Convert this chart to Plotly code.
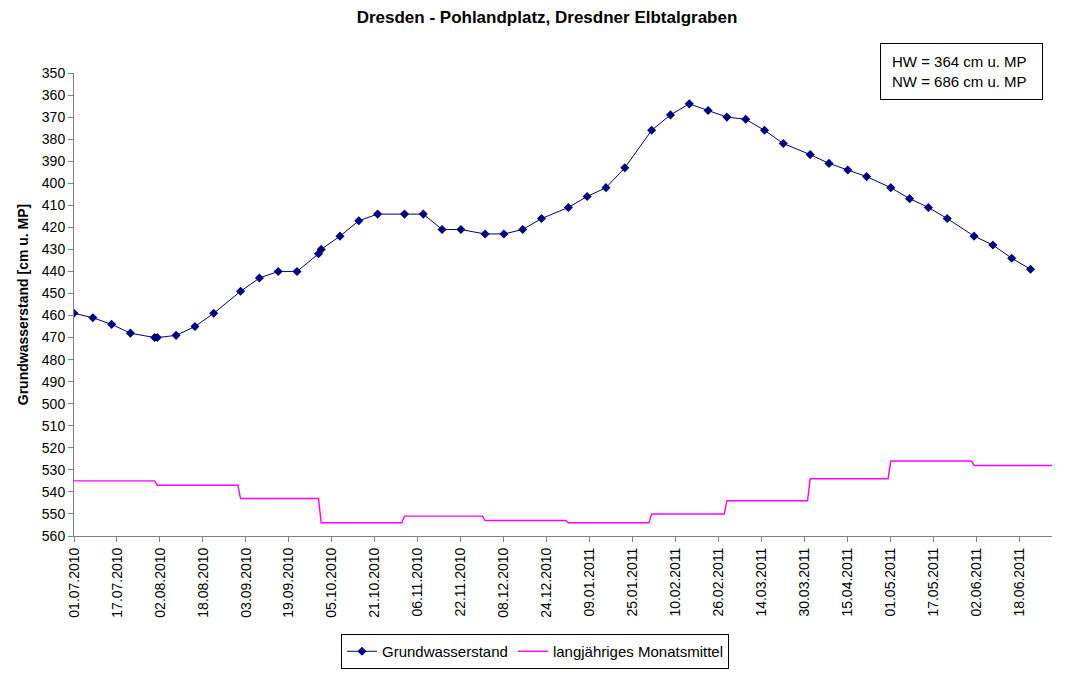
import plotly.graph_objects as go

# Grundwasserstand measurements
gw_dates = ["2010-07-01", "2010-07-08", "2010-07-15", "2010-07-22", "2010-07-31", "2010-08-01",
            "2010-08-08", "2010-08-15", "2010-08-22", "2010-09-01", "2010-09-08", "2010-09-15",
            "2010-09-22", "2010-09-30", "2010-10-01", "2010-10-08", "2010-10-15", "2010-10-22",
            "2010-11-01", "2010-11-08", "2010-11-15", "2010-11-22", "2010-12-01", "2010-12-08",
            "2010-12-15", "2010-12-22", "2011-01-01", "2011-01-08", "2011-01-15", "2011-01-22",
            "2011-02-01", "2011-02-08", "2011-02-15", "2011-02-22", "2011-03-01", "2011-03-08",
            "2011-03-15", "2011-03-22", "2011-04-01", "2011-04-08", "2011-04-15", "2011-04-22",
            "2011-05-01", "2011-05-08", "2011-05-15", "2011-05-22", "2011-06-01", "2011-06-08",
            "2011-06-15", "2011-06-22"]
gw_values = [459, 461, 464, 468, 470, 470,
             469, 465, 459, 449, 443, 440,
             440, 432, 430, 424, 417, 414,
             414, 414, 421, 421, 423, 423,
             421, 416, 411, 406, 402, 393,
             376, 369, 364, 367, 370, 371,
             376, 382, 387, 391, 394, 397,
             402, 407, 411, 416, 424, 428,
             434, 439]

# Long-term monthly mean (step line: value at month start and month end)
mm_dates = ["2010-07-01", "2010-07-31", "2010-08-01", "2010-08-31", "2010-09-01", "2010-09-30",
            "2010-10-01", "2010-10-31", "2010-11-01", "2010-11-30", "2010-12-01", "2010-12-31",
            "2011-01-01", "2011-01-31", "2011-02-01", "2011-02-28", "2011-03-01", "2011-03-31",
            "2011-04-01", "2011-04-30", "2011-05-01", "2011-05-31", "2011-06-01", "2011-06-30"]
mm_values = [535, 535, 537, 537, 543, 543,
             554, 554, 551, 551, 553, 553,
             554, 554, 550, 550, 544, 544,
             534, 534, 526, 526, 528, 528]

title_text = "Dresden - Pohlandplatz, Dresdner Elbtalgraben"
y_title = "Grundwasserstand [cm u. MP]"
info_text = "HW = 364 cm u. MP<br>NW = 686 cm u. MP"

FONT = "Liberation Sans, Arial, sans-serif"

fig = go.Figure()
fig.add_trace(go.Scatter(
    x=gw_dates, y=gw_values, mode="lines+markers", name="Grundwasserstand",
    line=dict(color="#000080", width=1),
    marker=dict(symbol="diamond", size=7, color="#000080"),
))
fig.add_trace(go.Scatter(
    x=mm_dates, y=mm_values, mode="lines", name="langjähriges Monatsmittel",
    line=dict(color="#FF00FF", width=1.4),
))

fig.update_layout(
    width=1089, height=674,
    margin=dict(l=74, r=37, t=73, b=138, autoexpand=False),
    paper_bgcolor="white", plot_bgcolor="white",
    font=dict(family=FONT, size=14, color="black"),
    title=dict(text="<b>" + title_text + "</b>", x=547 / 1089, xanchor="center",
               y=1 - 17 / 674, yanchor="middle", font=dict(size=17, family=FONT)),
    showlegend=True,
    legend=dict(orientation="h", x=(535 - 74) / 978, xanchor="center", y=-0.2117, yanchor="top",
                bordercolor="black", borderwidth=1, font=dict(size=15, family=FONT),
                tracegroupgap=0),
)

fig.update_xaxes(
    type="date", range=["2010-07-01", "2011-06-30"],
    tick0="2010-07-01", dtick=16 * 86400000, tickformat="%d.%m.%Y",
    tickangle=-90, ticks="outside", ticklen=5, tickcolor="#808080",
    showline=True, linecolor="#808080", linewidth=1,
    showgrid=False, zeroline=False, tickfont=dict(size=14, family=FONT),
)
fig.update_yaxes(
    range=[560, 350], dtick=10, tick0=350,
    ticks="outside", ticklen=5, tickcolor="#808080",
    showline=True, linecolor="#808080", linewidth=1,
    showgrid=False, zeroline=False, tickfont=dict(size=14, family=FONT),
    title=dict(text="<b>" + y_title + "</b>", font=dict(size=14, family=FONT), standoff=9),
)

fig.add_annotation(
    xref="paper", yref="paper", x=(1043 - 74) / 978, y=(536 - 43) / 463,
    xanchor="right", yanchor="top",
    text=info_text, showarrow=False, align="left",
    bordercolor="black", borderwidth=1, borderpad=11, bgcolor="white",
    width=139, height=33, font=dict(size=15, family=FONT),
)

fig.write_html("out.html", config={"displayModeBar": False},
               post_script="document.body.style.margin='0px';")
